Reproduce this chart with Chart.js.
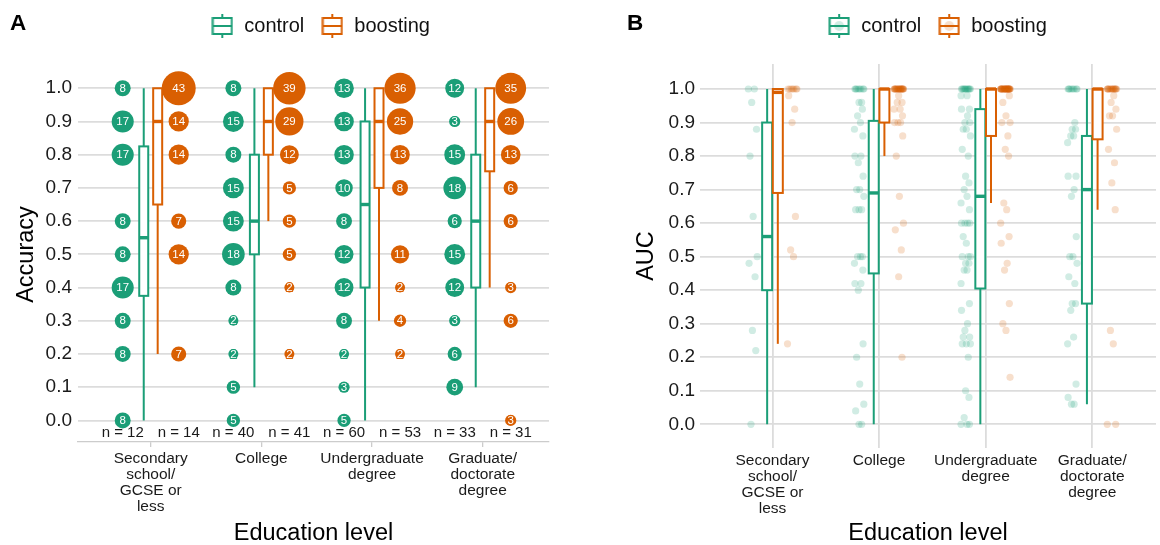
<!DOCTYPE html>
<html>
<head>
<meta charset="utf-8">
<script src="https://cdn.jsdelivr.net/npm/chart.js@4.4.1/dist/chart.umd.min.js"></script>
<style>
html,body{margin:0;padding:0;background:#fff;width:1160px;height:545px;overflow:hidden}
#wrapA{position:absolute;left:0;top:0;width:580px;height:545px}
#wrapB{position:absolute;left:580px;top:0;width:580px;height:545px}
canvas{display:block}
</style>
</head>
<body>
<div id="wrapA"><canvas id="cA" width="580" height="545"></canvas></div>
<div id="wrapB"><canvas id="cB" width="580" height="545"></canvas></div>
<script>
// ---------------- DATA ----------------
const categories = [["Secondary","school/","GCSE or","less"],["College"],["Undergraduate","degree"],["Graduate/","doctorate","degree"]];
const groupNames = ["control","boosting"];
const nControl = [12, 40, 60, 33];
const nBoosting = [14, 41, 53, 31];
const yTicks = [0, 0.1, 0.2, 0.3, 0.4, 0.5, 0.6, 0.7, 0.8, 0.9, 1.0];
const accuracyLevels = [0, 0.1, 0.2, 0.3, 0.4, 0.5, 0.6, 0.7, 0.8, 0.9, 1.0];

// percent of participants at each accuracy level (0.0 ... 1.0), null = none
const accPctControl = [
  [8, null, 8, 8, 17, 8, 8, null, 17, 17, 8],
  [5, 5, 2, 2, 8, 18, 15, 15, 8, 15, 8],
  [5, 3, 2, 8, 12, 12, 8, 10, 13, 13, 13],
  [null, 9, 6, 3, 12, 15, 6, 18, 15, 3, 12]
];
const accPctBoosting = [
  [null, null, 7, null, null, 14, 7, null, 14, 14, 43],
  [null, null, 2, null, 2, 5, 5, 5, 12, 29, 39],
  [null, null, 2, 4, 2, 11, null, 8, 13, 25, 36],
  [3, null, null, 6, 3, null, 6, 6, 13, 26, 35]
];
// box stats: [min, q1, median, q3, max]
const accBoxControl = [
  [0.0, 0.375, 0.55, 0.825, 1.0],
  [0.1, 0.5, 0.6, 0.8, 1.0],
  [0.0, 0.4, 0.65, 0.9, 1.0],
  [0.1, 0.4, 0.6, 0.8, 1.0]
];
const accBoxBoosting = [
  [0.2, 0.65, 0.9, 1.0, 1.0],
  [0.6, 0.8, 0.9, 1.0, 1.0],
  [0.3, 0.7, 0.9, 1.0, 1.0],
  [0.4, 0.75, 0.9, 1.0, 1.0]
];

// AUC per participant
const aucControl = [
  [1, 1, 0.96, 0.88, 0.80, 0.62, 0.50, 0.48, 0.44, 0.28, 0.22, 0],
  [1, 1, 1, 1, 1, 1, 1, 1, 0.96, 0.96, 0.94, 0.92, 0.90, 0.88, 0.86, 0.80, 0.80, 0.78, 0.74, 0.70,
   0.70, 0.68, 0.64, 0.64, 0.64, 0.50, 0.50, 0.50, 0.48, 0.46, 0.42, 0.42, 0.40, 0.24, 0.20, 0.12, 0.06, 0.04, 0, 0],
  [1, 1, 1, 1, 1, 1, 1, 1, 1, 1, 1, 1, 0.98, 0.98, 0.94, 0.94, 0.92, 0.90, 0.90, 0.88,
   0.88, 0.86, 0.82, 0.80, 0.74, 0.72, 0.70, 0.68, 0.66, 0.64, 0.60, 0.60, 0.60, 0.60, 0.56, 0.54, 0.50, 0.50, 0.50, 0.48,
   0.48, 0.46, 0.46, 0.42, 0.36, 0.34, 0.30, 0.28, 0.26, 0.26, 0.24, 0.24, 0.24, 0.20, 0.10, 0.08, 0.02, 0, 0, 0],
  [1, 1, 1, 1, 1, 1, 1, 1, 0.90, 0.88, 0.88, 0.86, 0.86, 0.84, 0.74, 0.74, 0.70, 0.68, 0.56, 0.50,
   0.50, 0.48, 0.44, 0.42, 0.36, 0.36, 0.34, 0.26, 0.24, 0.12, 0.08, 0.06, 0.06]
];
const aucBoosting = [
  [1, 1, 1, 1, 1, 1, 1, 0.98, 0.94, 0.90, 0.62, 0.52, 0.50, 0.24],
  [1, 1, 1, 1, 1, 1, 1, 1, 1, 1, 1, 1, 1, 1, 1, 1, 1, 1, 1, 1, 1, 1, 1, 1,
   0.98, 0.96, 0.96, 0.94, 0.94, 0.92, 0.90, 0.90, 0.90, 0.86, 0.80, 0.68, 0.60, 0.58, 0.52, 0.44, 0.20],
  [1, 1, 1, 1, 1, 1, 1, 1, 1, 1, 1, 1, 1, 1, 1, 1, 1, 1, 1, 1, 1, 1, 1, 1, 1, 1, 1, 1, 1, 1, 1, 1, 1,
   0.98, 0.96, 0.92, 0.90, 0.90, 0.86, 0.82, 0.80, 0.66, 0.64, 0.60, 0.56, 0.54, 0.48, 0.46, 0.36, 0.30, 0.28, 0.14],
  [1, 1, 1, 1, 1, 1, 1, 1, 1, 1, 1, 1, 1, 1, 1, 1,
   0.98, 0.96, 0.94, 0.92, 0.92, 0.88, 0.82, 0.78, 0.72, 0.64, 0.28, 0.24, 0, 0]
];
const aucBoxControl = [
  [0.0, 0.40, 0.56, 0.90, 1.0],
  [0.0, 0.45, 0.69, 0.905, 1.0],
  [0.0, 0.405, 0.68, 0.94, 1.0],
  [0.06, 0.36, 0.70, 0.86, 1.0]
];
const aucBoxBoosting = [
  [0.24, 0.69, 0.99, 1.0, 1.0],
  [0.80, 0.90, 1.0, 1.0, 1.0],
  [0.66, 0.86, 1.0, 1.0, 1.0],
  [0.64, 0.85, 1.0, 1.0, 1.0]
];

// ---------------- STYLE ----------------
const GREEN = '#1B9E77', ORANGE = '#D95F02';
const GREEN_A = 'rgba(27,158,119,0.2)', ORANGE_A = 'rgba(217,95,2,0.2)';
const FONT = "'Liberation Sans', Arial, Helvetica, sans-serif";
Chart.defaults.font.family = FONT;
Chart.defaults.color = '#1a1a1a';
const JITTER = [-0.9, 0.35, -0.2, 0.8, -0.55, 0.1, 0.95, -0.75, 0.5, -0.05, 0.65, -0.35, 0.25, -1.0, 0.75];

function bubbleData(pcts, side) {
  const out = [];
  pcts.forEach((row, ci) => row.forEach((p, li) => {
    if (p == null) return;
    out.push({x: ci + 1 + side * 0.253, y: accuracyLevels[li], r: Math.sqrt(12 + 6.44 * p), pct: p});
  }));
  return out;
}
function pointData(vals, side) {
  const out = [];
  vals.forEach((arr, ci) => arr.forEach((v, i) => {
    out.push({x: ci + 1 + side * 0.186 + JITTER[i % JITTER.length] * 0.045, y: v});
  }));
  return out;
}
function legendIcon(color, dotColor) {
  const c = document.createElement('canvas');
  c.width = 22; c.height = 24;
  const g = c.getContext('2d');
  if (dotColor) { g.fillStyle = dotColor; g.beginPath(); g.arc(11, 12, 5, 0, Math.PI * 2); g.fill(); }
  g.strokeStyle = color; g.lineWidth = 2;
  g.strokeRect(1.5, 4, 19, 16);
  g.beginPath();
  g.moveTo(1.5, 12); g.lineTo(20.5, 12);
  g.moveTo(11, 0); g.lineTo(11, 4);
  g.moveTo(11, 20); g.lineTo(11, 24);
  g.stroke();
  return c;
}

function decor(o) {
  return {
    id: 'decor',
    afterLayout(chart) {
      const lg = chart.legend;
      if (lg) { lg.left += o.legendDx; lg.right += o.legendDx; lg.top += o.legendDy; lg.bottom += o.legendDy; }
    },
    afterDatasetsDraw(chart) {
      const {ctx, scales: {x, y}} = chart;
      ctx.save();
      // boxplots
      o.boxes.forEach(b => {
        b.stats.forEach((s, i) => {
          const cx = x.getPixelForValue(i + 1 + b.offset);
          const [mn, q1, md, q3, mx] = s.map(v => y.getPixelForValue(v));
          ctx.strokeStyle = b.color; ctx.lineWidth = 2;
          ctx.beginPath();
          ctx.moveTo(cx, mx); ctx.lineTo(cx, q3);
          ctx.moveTo(cx, q1); ctx.lineTo(cx, mn);
          ctx.stroke();
          ctx.fillStyle = '#fff';
          ctx.fillRect(cx - o.halfW, q3, 2 * o.halfW, q1 - q3);
          ctx.strokeRect(cx - o.halfW, q3, 2 * o.halfW, q1 - q3);
          ctx.lineWidth = 3.4;
          ctx.beginPath(); ctx.moveTo(cx - o.halfW, md); ctx.lineTo(cx + o.halfW, md); ctx.stroke();
        });
      });
      // bubble labels
      if (o.bubbleLabels) {
        ctx.font = '11.5px ' + FONT;
        ctx.textAlign = 'center'; ctx.textBaseline = 'middle';
        chart.data.datasets.forEach((ds, di) => {
          const meta = chart.getDatasetMeta(di);
          meta.data.forEach((el, k) => {
            const t = String(ds.data[k].pct);
            ctx.lineWidth = 2.2; ctx.strokeStyle = ds.backgroundColor; ctx.lineJoin = 'round';
            ctx.strokeText(t, el.x, el.y + 0.5);
            ctx.fillStyle = '#fff';
            ctx.fillText(t, el.x, el.y + 0.5);
          });
        });
      }
      // n labels
      if (o.nLabels) {
        ctx.font = '15px ' + FONT; ctx.fillStyle = '#1a1a1a';
        ctx.textAlign = 'center'; ctx.textBaseline = 'middle';
        const yy = y.getPixelForValue(-0.038);
        nControl.forEach((n, i) => ctx.fillText('n = ' + n, x.getPixelForValue(i + 1 - 0.253), yy));
        nBoosting.forEach((n, i) => ctx.fillText('n = ' + n, x.getPixelForValue(i + 1 + 0.253), yy));
      }
      ctx.restore();
    },
    afterDraw(chart) {
      const ctx = chart.ctx;
      ctx.save();
      ctx.font = 'bold 22.5px ' + FONT; ctx.fillStyle = '#000';
      ctx.textAlign = 'left'; ctx.textBaseline = 'alphabetic';
      ctx.fillText(o.letter, o.letterX, 29.5);
      ctx.restore();
    }
  };
}

function legendCfg(icons) {
  return {
    position: 'top', fullSize: false,
    labels: {
      usePointStyle: true, pointStyleWidth: 24, padding: 16, color: '#111',
      font: {size: 20},
      generateLabels: () => groupNames.map((t, i) => ({
        text: t, pointStyle: icons[i], fillStyle: 'rgba(0,0,0,0)', strokeStyle: 'rgba(0,0,0,0)',
        lineWidth: 0, hidden: false, datasetIndex: i, fontColor: '#111'
      }))
    }
  };
}
function yCfg(min, max, width, titleText, titlePad, tickPad) {
  return {
    type: 'linear', min, max,
    afterBuildTicks: s => { s.ticks = yTicks.map(v => ({value: v})); },
    afterFit: s => { s.width = width; },
    ticks: {callback: v => Number(v).toFixed(1), font: {size: 19}, color: '#1a1a1a', padding: tickPad},
    grid: {color: '#dcdcdc', lineWidth: 1.8, drawTicks: false},
    border: {display: false},
    title: {display: true, text: titleText, font: {size: 23.5, lineHeight: 1}, color: '#000', padding: {top: titlePad, bottom: 0}}
  };
}
function xCfg(min, max, height, isA) {
  return {
    type: 'linear', min, max,
    afterBuildTicks: s => { s.ticks = [1, 2, 3, 4].map(v => ({value: v})); },
    afterFit: s => { s.height = height; },
    ticks: {callback: v => categories[Math.round(v) - 1], font: {size: 15.5, lineHeight: 1.03}, color: '#1a1a1a',
            padding: isA ? 4 : 5, maxRotation: 0, autoSkip: false},
    grid: isA ? {display: true, drawOnChartArea: false, drawTicks: true, tickLength: 5, color: '#cccccc', lineWidth: 1.3}
              : {display: true, drawOnChartArea: true, drawTicks: false, color: '#dcdcdc', lineWidth: 1.8},
    border: isA ? {display: true, color: '#cccccc', width: 1.3} : {display: false},
    title: {display: true, text: 'Education level', font: {size: 23.5, lineHeight: 1}, color: '#000', padding: {top: 0, bottom: 0}}
  };
}

// ---------------- PANEL A ----------------
new Chart(document.getElementById('cA'), {
  type: 'bubble',
  data: {datasets: [
    {label: 'control', data: bubbleData(accPctControl, -1), backgroundColor: GREEN, borderWidth: 0, clip: false},
    {label: 'boosting', data: bubbleData(accPctBoosting, 1), backgroundColor: ORANGE, borderWidth: 0, clip: false}
  ]},
  options: {
    responsive: false, animation: false, devicePixelRatio: 1, events: [],
    layout: {padding: {top: 21, right: 31, bottom: 0, left: 0}},
    plugins: {legend: legendCfg([legendIcon(GREEN), legendIcon(ORANGE)]), tooltip: {enabled: false}},
    scales: {x: xCfg(0.343, 4.599, 103, true), y: yCfg(-0.065, 1.064, 78, 'Accuracy', 15, 6)}
  },
  plugins: [decor({
    legendDx: 6.6, legendDy: -21, halfW: 4.5, letter: 'A', letterX: 10,
    bubbleLabels: true, nLabels: true,
    boxes: [{stats: accBoxControl, offset: -0.063, color: GREEN}, {stats: accBoxBoosting, offset: 0.063, color: ORANGE}]
  })]
});

// ---------------- PANEL B ----------------
new Chart(document.getElementById('cB'), {
  type: 'scatter',
  data: {datasets: [
    {label: 'control', data: pointData(aucControl, -1), backgroundColor: GREEN_A, borderWidth: 0, pointRadius: 3.6, clip: false},
    {label: 'boosting', data: pointData(aucBoosting, 1), backgroundColor: ORANGE_A, borderWidth: 0, pointRadius: 3.6, clip: false}
  ]},
  options: {
    responsive: false, animation: false, devicePixelRatio: 1, events: [],
    layout: {padding: {top: 18, right: 0, bottom: 0, left: 0}},
    plugins: {legend: legendCfg([legendIcon(GREEN, GREEN_A), legendIcon(ORANGE, ORANGE_A)]), tooltip: {enabled: false}},
    scales: {x: xCfg(0.32, 4.598, 97, false), y: yCfg(-0.0707, 1.0746, 120, 'AUC', 55, 5)}
  },
  plugins: [decor({
    legendDx: 9, legendDy: -18, halfW: 5, letter: 'B', letterX: 47,
    bubbleLabels: false, nLabels: false,
    boxes: [{stats: aucBoxControl, offset: -0.05, color: GREEN}, {stats: aucBoxBoosting, offset: 0.05, color: ORANGE}]
  })]
});
</script>
</body>
</html>
